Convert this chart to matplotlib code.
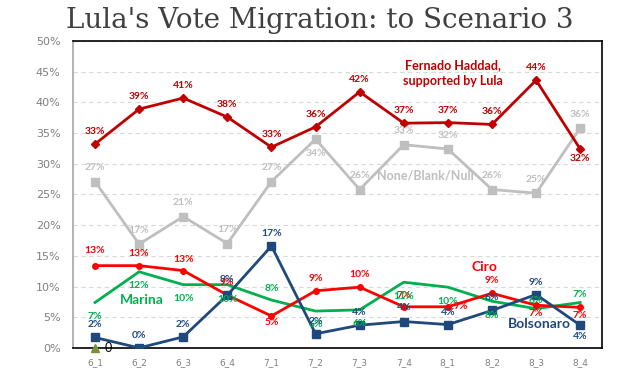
import matplotlib.pyplot as plt
import numpy as np

# dados
cats = ['6_1', '6_2', '6_3', '6_4', '7_1', '7_2', '7_3', '7_4', '8_1', '8_2', '8_3', '8_4']
haddad = [33.2, 38.9, 40.7, 37.6, 32.7, 36.0, 41.7, 36.6, 36.7, 36.4, 43.6, 32.4]
nulo = [27.1, 16.9, 21.4, 17.0, 27.1, 34.0, 25.8, 33.1, 32.4, 25.8, 25.2, 35.8]
ciro = [13.4, 13.4, 12.6, 8.6, 5.2, 9.3, 9.9, 6.7, 6.7, 8.9, 6.95, 6.6]
marina = [7.4, 12.4, 10.3, 10.3, 7.8, 6.0, 6.2, 10.7, 9.9, 7.6, 6.4, 7.4]
bolsonaro = [1.7, 0.0, 1.8, 8.6, 16.6, 2.3, 3.7, 4.3, 3.8, 6.1, 8.7, 3.7]
outro = [0.0]

# posição dos rótulos: deslocamento vertical em pontos
off_haddad = [9] * 11 + [-7]
off_nulo = [10, 10, 10, 10, 10, -10, 10, 10, 10, 10, 10, 10]
off_ciro = [11, 9, 8, 9, -5, 9, 9, 8, 0, 9, -6, -6]
off_marina = [-10, -10, -10, -11, 8, -10, -10, -10, -10, -10, 6, 6]
off_bolso = [9, 9, 9, 11, 9, 9, 9, 10, 9, 9, 9, -8]

x = np.arange(len(cats))

fig = plt.figure(figsize=(6.4, 3.79), dpi=100)
ax = fig.add_axes([0.114, 0.082, 0.827, 0.81])

c_haddad = '#C00000'
c_nulo = '#BFBFBF'
c_ciro = '#FF0000'
c_marina = '#00B050'
c_bolso = '#1F497D'

ax.plot(x, nulo, color=c_nulo, lw=2, marker='s', ms=5.5, zorder=3)
ax.plot(x, haddad, color=c_haddad, lw=2, marker='D', ms=4, zorder=4)
ax.plot(x, marina, color=c_marina, lw=2, zorder=3)
ax.plot(x, ciro, color=c_ciro, lw=2, marker='o', ms=4, zorder=3)
ax.plot(x, bolsonaro, color=c_bolso, lw=2, marker='s', ms=6, zorder=4)
ax.plot(x[:1], outro, color='#77933C', marker='^', ms=6, ls='none', zorder=5, clip_on=False)
ax.annotate('0', (x[0], outro[0]), xytext=(7, 0), textcoords='offset points',
            ha='left', va='center', fontsize=9, color='black', family='Lato')

def rotulos(vals, offs, cor, dx=None):
    for i, v in enumerate(vals):
        dy = offs[i]
        ddx = 0 if dx is None else dx[i]
        ax.annotate('{:.0f}%'.format(v), (x[i], v), xytext=(ddx, dy), textcoords='offset points',
                    ha='center', va='center', fontsize=7.5, color=cor, family='Lato',
                    fontweight='bold', zorder=6)

rotulos(haddad, off_haddad, c_haddad)
rotulos(nulo, off_nulo, c_nulo)
rotulos(ciro, off_ciro, c_ciro, dx=[0] * 8 + [9, 0, 0, 0])
rotulos(marina, off_marina, c_marina)
rotulos(bolsonaro, off_bolso, c_bolso)

# nomes das séries
ax.text(8.12, 44.8, 'Fernado Haddad,\nsupported by Lula', color=c_haddad, fontsize=9,
        fontweight='bold', family='Lato', ha='center', va='center', linespacing=1.4)
ax.text(7.48, 28.1, 'None/Blank/Null', color=c_nulo, fontsize=9,
        fontweight='bold', family='Lato', ha='center', va='center')
ax.text(8.82, 13.2, 'Ciro', color=c_ciro, fontsize=10,
        fontweight='bold', family='Lato', ha='center', va='center')
ax.text(1.06, 7.8, 'Marina', color=c_marina, fontsize=10,
        fontweight='bold', family='Lato', ha='center', va='center')
ax.text(10.07, 3.9, 'Bolsonaro', color=c_bolso, fontsize=10,
        fontweight='bold', family='Lato', ha='center', va='center')

ax.set_xlim(-0.5, len(cats) - 0.5)
ax.set_ylim(0, 50)
ax.set_xticks(x)
ax.set_xticklabels(cats, fontsize=6.5, color='#7F7F7F')
ax.set_yticks(np.arange(0, 51, 5))
ax.set_yticklabels(['{}%'.format(v) for v in range(0, 51, 5)], fontsize=8, color='#7F7F7F')
ax.tick_params(axis='both', length=0, pad=7)
ax.tick_params(axis='y', pad=9)
for g in range(5, 51, 5):
    ax.axhline(g, color='#D9D9D9', lw=0.8, ls=(0, (4, 3)), zorder=0)
for s in ['top', 'right', 'bottom']:
    ax.spines[s].set_color('black')
    ax.spines[s].set_linewidth(1.2)
ax.spines['left'].set_color('#A6A6A6')
ax.spines['left'].set_linewidth(1.2)

fig.text(0.5, 0.945, "Lula's Vote Migration: to Scenario 3", ha='center', va='center',
         fontsize=20, family='DejaVu Serif', color='#404040')

fig.savefig('out.png', dpi=100)
